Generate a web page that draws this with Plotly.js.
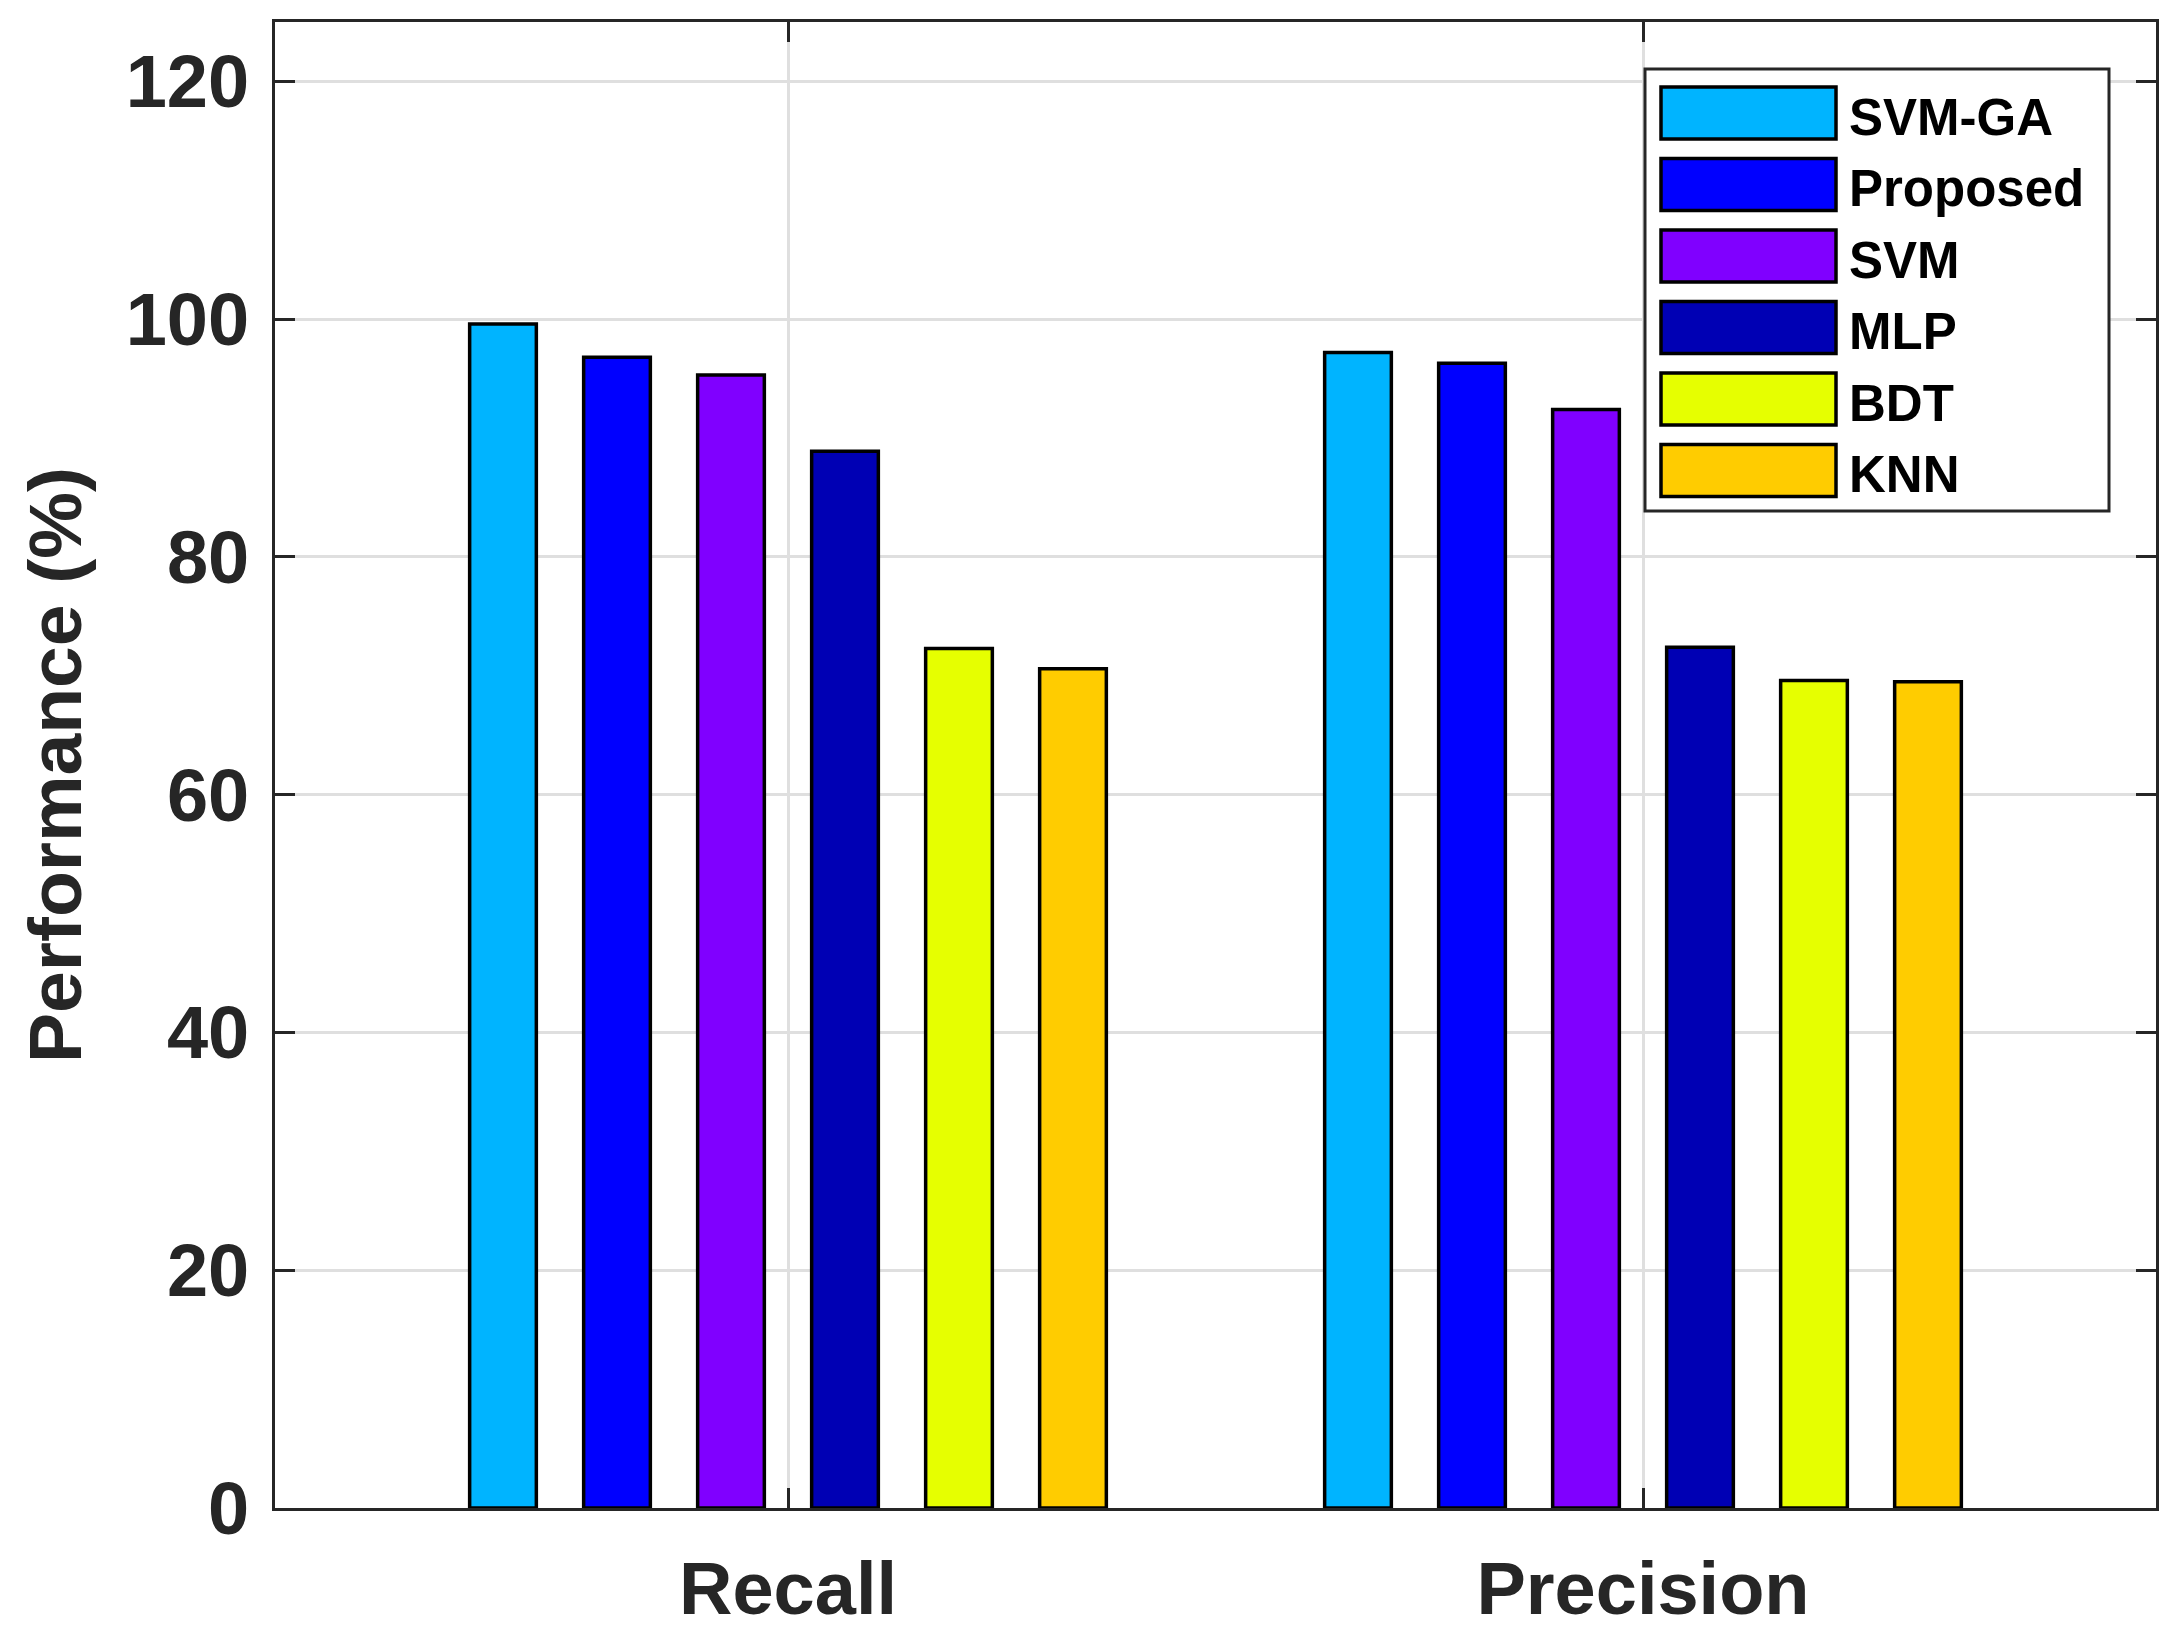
<!DOCTYPE html>
<html>
<head>
<meta charset="utf-8">
<script src="https://cdn.plot.ly/plotly-3.0.1.min.js"></script>
<style>html,body{margin:0;padding:0;background:#fff;}#chart{width:2178px;height:1646px;}</style>
</head>
<body>
<div id="chart"></div>
<script>
// ---- data ----
const categories = ["Recall", "Precision"];
const methods = ["SVM-GA", "Proposed", "SVM", "MLP", "BDT", "KNN"];
const svmGA    = [99.6, 97.2];
const proposed = [96.8, 96.3];
const svm      = [95.3, 92.4];
const mlp      = [88.9, 72.4];
const bdt      = [72.3, 69.6];
const knn      = [70.6, 69.5];
const yTicks   = [0, 20, 40, 60, 80, 100, 120];
const colors   = ["#00B4FF", "#0000FF", "#8000FF", "#0000B4", "#E6FF00", "#FFCC00"];

const seriesValues = [svmGA, proposed, svm, mlp, bdt, knn];

const W = 2178, H = 1646;
const M = {l: 275, r: 22, t: 22, b: 138};
const plotW = W - M.l - M.r, plotH = H - M.t - M.b;
const px2paperX = x => (x - M.l) / plotW;
const px2paperY = y => (H - M.b - y) / plotH;

const traces = methods.map((name, i) => ({
  type: "bar",
  name: name,
  x: categories,
  y: seriesValues[i],
  marker: {color: colors[i], line: {color: "#000000", width: 3.5}},
  showlegend: false,
  hoverinfo: "x+y+name"
}));

// custom legend (large swatches as in the reference)
const shapes = [];
const annotations = [];
const legL = 1645, legR = 2109, legT = 69, legB = 511;
shapes.push({type: "rect", xref: "paper", yref: "paper",
  x0: px2paperX(legL), x1: px2paperX(legR), y0: px2paperY(legB), y1: px2paperY(legT),
  line: {color: "#262626", width: 3}, fillcolor: "#ffffff", layer: "above"});
methods.forEach((name, i) => {
  const cy = 113 + i * 71.5;
  shapes.push({type: "rect", xref: "paper", yref: "paper",
    x0: px2paperX(1661), x1: px2paperX(1836), y0: px2paperY(cy + 26), y1: px2paperY(cy - 26),
    line: {color: "#000000", width: 3.5}, fillcolor: colors[i], layer: "above"});
  annotations.push({xref: "paper", yref: "paper", x: px2paperX(1847), y: px2paperY(cy + 4),
    xanchor: "left", yanchor: "middle", showarrow: false, text: "<b>" + name + "</b>",
    font: {family: "Liberation Sans, Arial, sans-serif", size: 51, color: "#000000"}});
});

const axisCommon = {
  showline: true, linecolor: "#262626", linewidth: 3, mirror: "ticks",
  ticks: "inside", ticklen: 20, tickwidth: 3, tickcolor: "#262626",
  showgrid: true, gridcolor: "#DFDFDF", gridwidth: 3, zeroline: false,
  tickfont: {family: "Liberation Sans, Arial, sans-serif", size: 74, color: "#262626", weight: "bold"},
  automargin: false
};

const layout = {
  width: W, height: H,
  margin: M,
  paper_bgcolor: "#ffffff", plot_bgcolor: "#ffffff",
  barmode: "group", bargap: 0.2, bargroupgap: 0.415,
  xaxis: Object.assign({}, axisCommon, {
    type: "category", range: [-0.6, 1.6], ticklabelstandoff: 14
  }),
  yaxis: Object.assign({}, axisCommon, {
    range: [0, 125], tickvals: yTicks, ticktext: yTicks.map(String), ticklabelstandoff: 8,
    title: {text: "<b>Performance (%)</b>", standoff: 20,
      font: {family: "Liberation Sans, Arial, sans-serif", size: 75, color: "#262626"}}
  }),
  shapes: shapes,
  annotations: annotations,
  font: {family: "Liberation Sans, Arial, sans-serif"}
};

Plotly.newPlot("chart", traces, layout, {displayModeBar: false, staticPlot: true});
</script>
</body>
</html>
